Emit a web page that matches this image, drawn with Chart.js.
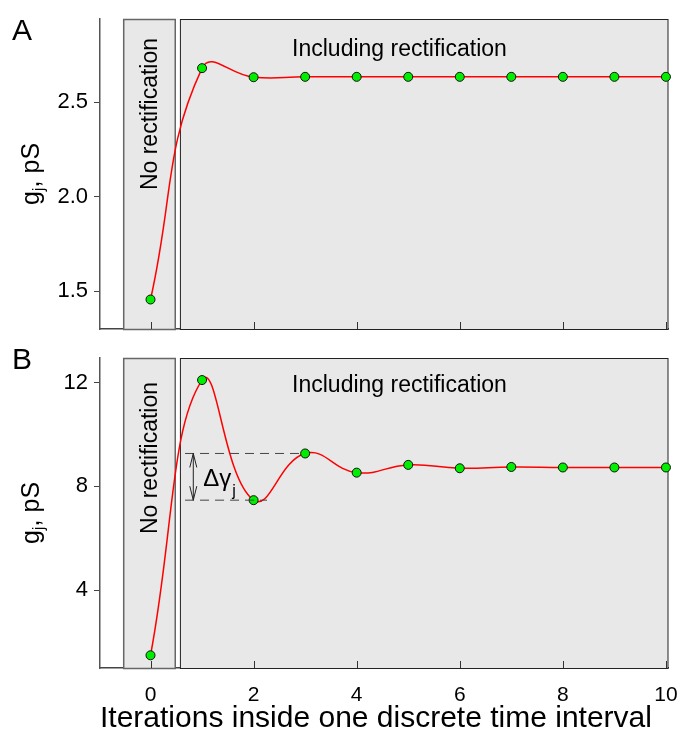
<!DOCTYPE html>
<html>
<head>
<meta charset="utf-8">
<script src="https://cdn.jsdelivr.net/npm/chart.js@4"></script>
<style>
  body { margin: 0; background: #fff; }
  canvas { position: absolute; left: 0; }
  #chartA { top: 0; }
  #chartB { top: 340px; }
</style>
</head>
<body>
<canvas id="chartA" width="680" height="340"></canvas>
<canvas id="chartB" width="680" height="394"></canvas>
<script>
"use strict";

const FONT = '"Liberation Sans", Arial, Helvetica, sans-serif';

const iterations = [0, 1, 2, 3, 4, 5, 6, 7, 8, 9, 10];
const gjA = [1.456, 2.68, 2.632, 2.634, 2.634, 2.634, 2.634, 2.634, 2.634, 2.634, 2.634];
const gjB = [1.49, 12.1, 7.47, 9.27, 8.53, 8.83, 8.7, 8.75, 8.73, 8.73, 8.73];

const xTickValues = [0, 2, 4, 6, 8, 10];
const yTicksA = [1.5, 2.0, 2.5];
const yTicksB = [4, 8, 12];

const xTitle = "Iterations inside one discrete time interval";
const noRectLabel = "No rectification";
const withRectLabel = "Including rectification";

// shaded regions along x (iteration units)
const noRectBox = [-0.52, 0.48];
const withRectBox = [0.58, 10.04];

function toPoints(values) {
	return iterations.map(function (x, i) {
		return { x: x, y: values[i] };
	});
}

function drawYTitle(ctx, cx, cy) {
	ctx.save();
	ctx.translate(cx, cy);
	ctx.rotate(-Math.PI / 2);
	ctx.fillStyle = "#000";
	ctx.textBaseline = "alphabetic";
	ctx.textAlign = "left";
	const big = "25px " + FONT;
	const small = "17px " + FONT;
	ctx.font = big;
	const wg = ctx.measureText("g").width;
	const wRest = ctx.measureText(", pS").width;
	ctx.font = small;
	const wj = ctx.measureText("j").width;
	let u = -(wg + wj + wRest) / 2;
	ctx.font = big;
	ctx.fillText("g", u, 0);
	u += wg;
	ctx.font = small;
	ctx.fillText("j", u, 5);
	u += wj;
	ctx.font = big;
	ctx.fillText(", pS", u, 0);
	ctx.restore();
}

const panelDecor = {
	id: "panelDecor",
	beforeDatasetsDraw(chart, args, opts) {
		const { ctx, chartArea } = chart;
		const x = chart.scales.x;
		ctx.save();
		[[noRectBox, "#666", 1.5], [withRectBox, "#222", 1]].forEach(function (b) {
			const x0 = x.getPixelForValue(b[0][0]);
			const x1 = x.getPixelForValue(b[0][1]);
			ctx.fillStyle = "#e8e8e8";
			ctx.fillRect(x0, chartArea.top, x1 - x0, chartArea.bottom - chartArea.top);
			ctx.strokeStyle = b[1];
			ctx.lineWidth = b[2];
			ctx.strokeRect(x0, chartArea.top + 0.5, x1 - x0, chartArea.bottom - chartArea.top);
		});

		ctx.fillStyle = "#000";
		ctx.font = "23px " + FONT;
		ctx.textAlign = "center";
		ctx.textBaseline = "alphabetic";
		ctx.fillText(withRectLabel, x.getPixelForValue(4.83), chartArea.top + opts.incBaseline);

		const cx = (x.getPixelForValue(noRectBox[0]) + x.getPixelForValue(noRectBox[1])) / 2;
		ctx.translate(cx + 8, chartArea.top + opts.noRectTop);
		ctx.rotate(-Math.PI / 2);
		ctx.textAlign = "right";
		ctx.fillText(noRectLabel, 0, 0);
		ctx.restore();
	},
	afterDatasetsDraw(chart, args, opts) {
		const { ctx, chartArea } = chart;
		const x = chart.scales.x;
		const y = chart.scales.y;
		ctx.save();
		// inward tick marks on the x axis
		ctx.strokeStyle = "#333";
		ctx.lineWidth = 1;
		xTickValues.forEach(function (v) {
			const px = Math.round(x.getPixelForValue(v)) + 0.5;
			ctx.beginPath();
			ctx.moveTo(px, chartArea.bottom);
			ctx.lineTo(px, chartArea.bottom - 7);
			ctx.stroke();
		});

		if (opts.annotate) {
			const yHi = y.getPixelForValue(gjB[3]);
			const yLo = y.getPixelForValue(gjB[2]);
			const xs = x.getPixelForValue(0.67);
			ctx.strokeStyle = "#444";
			ctx.setLineDash([9, 6]);
			ctx.beginPath();
			ctx.moveTo(xs, yHi);
			ctx.lineTo(x.getPixelForValue(iterations[3]), yHi);
			ctx.moveTo(xs, yLo);
			ctx.lineTo(x.getPixelForValue(2.26), yLo);
			ctx.stroke();
			ctx.setLineDash([]);

			const ax = x.getPixelForValue(0.83);
			ctx.strokeStyle = "#222";
			ctx.beginPath();
			ctx.moveTo(ax, yHi);
			ctx.lineTo(ax, yLo);
			ctx.moveTo(ax - 3.5, yHi + 14);
			ctx.lineTo(ax, yHi);
			ctx.lineTo(ax + 3.5, yHi + 14);
			ctx.moveTo(ax - 3.5, yLo - 14);
			ctx.lineTo(ax, yLo);
			ctx.lineTo(ax + 3.5, yLo - 14);
			ctx.stroke();

			const mid = (yHi + yLo) / 2;
			ctx.fillStyle = "#000";
			ctx.textAlign = "left";
			ctx.textBaseline = "alphabetic";
			ctx.font = "24px " + FONT;
			ctx.fillText("Δγ", ax + 10, mid + 9);
			const w = ctx.measureText("Δγ").width;
			ctx.font = "16px " + FONT;
			ctx.fillText("j", ax + 11 + w, mid + 19);
		}
		ctx.restore();
	},
	afterDraw(chart, args, opts) {
		const { ctx, chartArea } = chart;
		ctx.save();
		ctx.fillStyle = "#000";
		ctx.font = "30px " + FONT;
		ctx.textAlign = "left";
		ctx.textBaseline = "alphabetic";
		ctx.fillText(opts.letter, 12, opts.letterBaseline);
		ctx.restore();
		drawYTitle(ctx, 39, (chartArea.top + chartArea.bottom) / 2);
	},
};

function makePanel(canvasId, values, yMin, yMax, yTicks, decimals, showXLabels, decor) {
	const ctx = document.getElementById(canvasId);
	return new Chart(ctx, {
		type: "line",
		data: {
			datasets: [
				{
					data: toPoints(values),
					borderColor: "#ff0000",
					borderWidth: 1.5,
					tension: 0.45,
					pointRadius: 4.5,
					pointBackgroundColor: "#00ee00",
					pointBorderColor: "#111",
					pointBorderWidth: 1,
					clip: false,
				},
			],
		},
		options: {
			responsive: false,
			animation: false,
			devicePixelRatio: 1,
			layout: { padding: { top: decor.top, right: 12, bottom: 0, left: 0 } },
			plugins: {
				legend: { display: false },
				tooltip: { enabled: false },
				panelDecor: decor,
			},
			scales: {
				x: {
					type: "linear",
					min: -0.98,
					max: 10.04,
					grid: { display: false, drawTicks: false },
					border: { display: true, color: "#444", width: 1.5 },
					afterBuildTicks: function (scale) {
						scale.ticks = xTickValues.map(function (v) {
							return { value: v };
						});
					},
					ticks: {
						display: showXLabels,
						color: "#000",
						padding: 15,
						font: { family: FONT, size: 21 },
					},
					title: {
						display: showXLabels,
						text: xTitle,
						align: "start",
						color: "#000",
						padding: 0,
						font: { family: FONT, size: 30, lineHeight: 1 },
					},
					afterFit: function (scale) {
						scale.height = decor.xHeight;
						scale.paddingLeft = 0;
						scale.paddingRight = 0;
					},
				},
				y: {
					min: yMin,
					max: yMax,
					grid: { drawOnChartArea: false, drawTicks: true, tickLength: 6, color: "#444" },
					border: { display: true, color: "#555", width: 1.5 },
					afterBuildTicks: function (scale) {
						scale.ticks = yTicks.map(function (v) {
							return { value: v };
						});
					},
					ticks: {
						color: "#000",
						padding: 6,
						font: { family: FONT, size: 22 },
						callback: function (v) {
							return Number(v).toFixed(decimals);
						},
					},
					afterFit: function (scale) {
						scale.width = 100;
						scale.paddingTop = 0;
						scale.paddingBottom = 0;
					},
				},
			},
		},
		plugins: [panelDecor],
	});
}

makePanel("chartA", gjA, 1.3, 2.94, yTicksA, 1, false, {
	letter: "A",
	letterBaseline: 40,
	top: 19,
	xHeight: 11,
	incBaseline: 37,
	noRectTop: 19,
	annotate: false,
});

makePanel("chartB", gjB, 1.0, 12.95, yTicksB, 0, true, {
	letter: "B",
	letterBaseline: 29,
	top: 18,
	xHeight: 66,
	incBaseline: 34,
	noRectTop: 24,
	annotate: true,
});
</script>
</body>
</html>
